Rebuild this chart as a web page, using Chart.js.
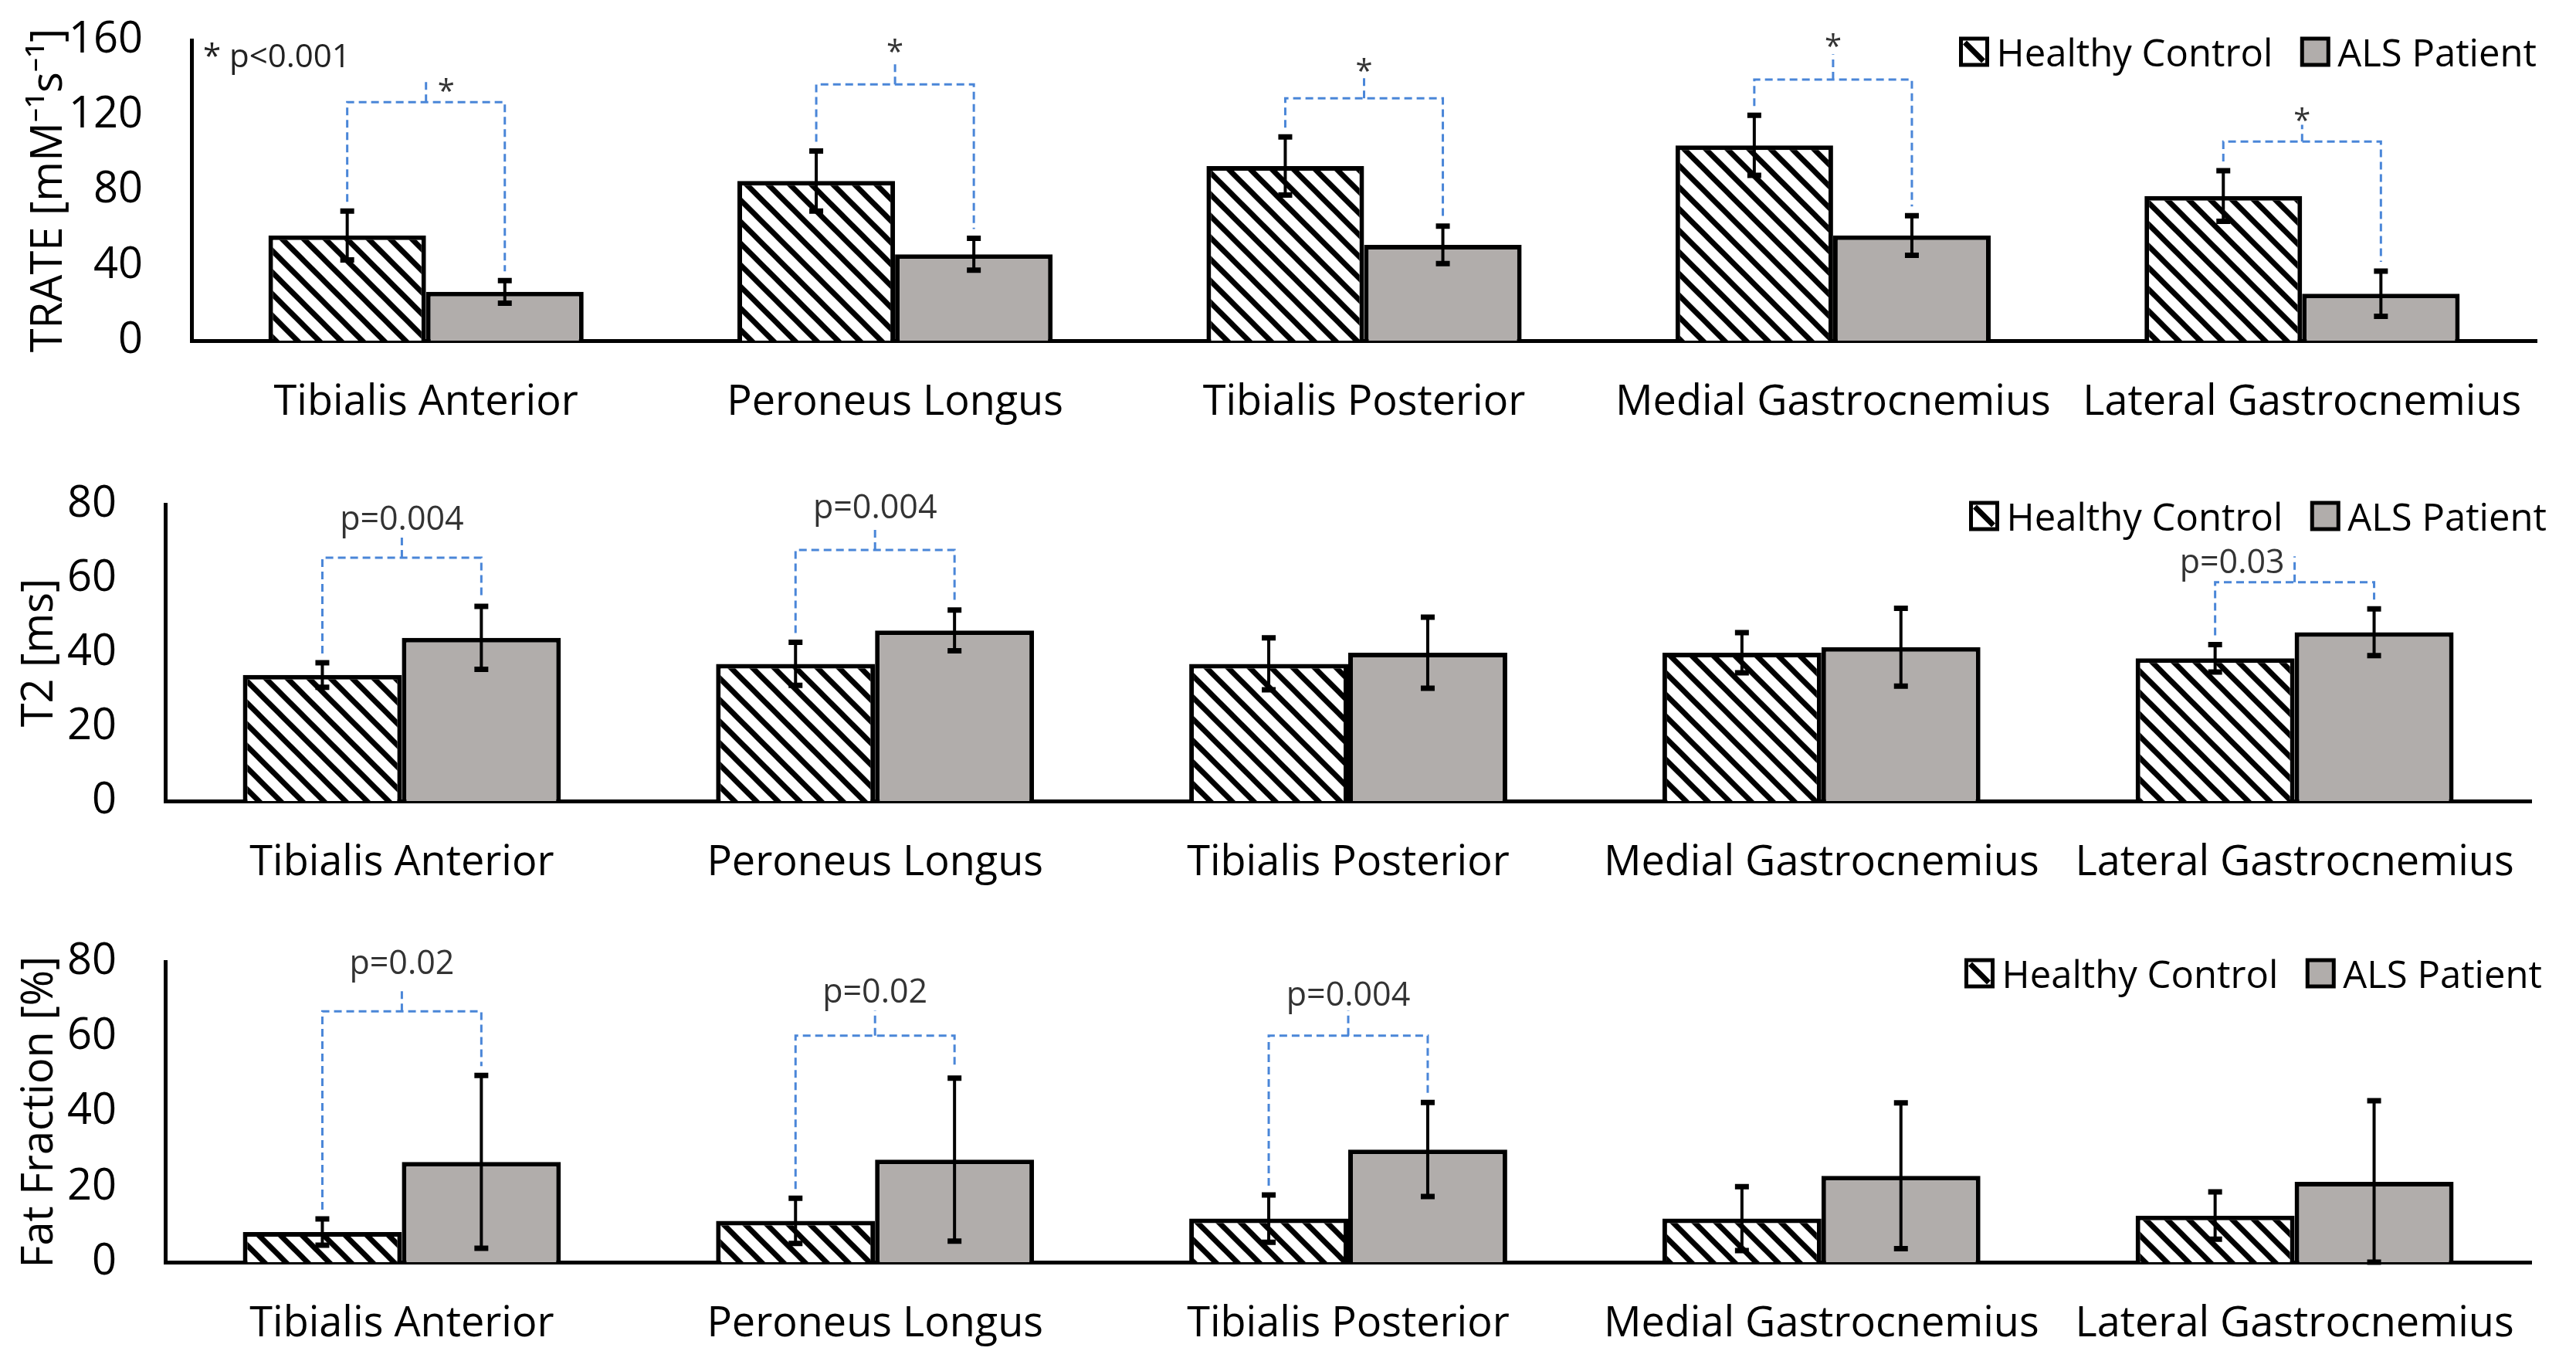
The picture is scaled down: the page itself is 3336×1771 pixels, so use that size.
<!DOCTYPE html>
<html>
<head>
<meta charset="utf-8">
<script src="https://cdn.jsdelivr.net/npm/chart.js@4.4.1/dist/chart.umd.min.js"></script>
<style>
html, body { margin: 0; padding: 0; background: #fff; }
body { width: 3336px; height: 1771px; position: relative; overflow: hidden; }
.panel { position: absolute; left: 0; width: 3336px; }
</style>
</head>
<body>
<div class="panel" style="top:0;height:580px"><canvas id="trateChart"></canvas></div>
<div class="panel" style="top:590px;height:590px"><canvas id="t2Chart"></canvas></div>
<div class="panel" style="top:1180px;height:591px"><canvas id="fatChart"></canvas></div>
<script>
const muscles = ['Tibialis Anterior', 'Peroneus Longus', 'Tibialis Posterior', 'Medial Gastrocnemius', 'Lateral Gastrocnemius'];
const seriesNames = ['Healthy Control', 'ALS Patient'];

// TRATE [mM-1 s-1]
const trateHealthy = [56, 85, 93, 104, 77];
const trateHealthySd = [13, 16, 15.5, 16, 13.5];
const trateAls = [26, 46, 51, 56, 25];
const trateAlsSd = [6, 8.5, 10, 10.5, 12];
const trateTicks = [0, 40, 80, 120, 160];

// T2 [ms]
const t2Healthy = [34, 37, 37, 40, 38.5];
const t2HealthySd = [3.3, 5.8, 7, 5.4, 3.7];
const t2Als = [44, 46, 40, 41.5, 45.5];
const t2AlsSd = [8.5, 5.5, 9.6, 10.5, 6.3];
const t2Ticks = [0, 20, 40, 60, 80];

// Fat Fraction [%]
const fatHealthy = [8, 11, 11.6, 11.6, 12.4];
const fatHealthySd = [3.5, 6, 6.3, 8.5, 6.3];
const fatAls = [26.7, 27.3, 30, 23, 21.4];
const fatAlsSd = [23, 21.7, 12.5, 19.4, 21.6];
const fatTicks = [0, 20, 40, 60, 80];

// significance brackets (category, label)
const trateSig = [[0, '*'], [1, '*'], [2, '*'], [3, '*'], [4, '*']];
const t2Sig = [[0, 'p=0.004'], [1, 'p=0.004'], [4, 'p=0.03']];
const fatSig = [[0, 'p=0.02'], [1, 'p=0.02'], [2, 'p=0.004']];

// bracket heights in axis units: [bar level, stem top, label centre]
const trateSigLevels = [[127, 138.5, 136], [136.5, 149, 157], [129, 141, 147], [139, 152.5, 160], [106, 115, 120.5]];
const t2SigLevels = [[65.6, 72, 76.5], [67.7, 74, 79.5], [59, 66, 64.7]];
const fatSigLevels = [[66.8, 72.5, 80], [60.3, 67, 72.4], [60.3, 67, 71.6]];

const FONT = '"Open Sans", "Noto Sans", sans-serif';

function hatchTile() {
    const size = 28;
    const c = document.createElement('canvas');
    c.width = size;
    c.height = size;
    const g = c.getContext('2d');
    g.fillStyle = '#fff';
    g.fillRect(0, 0, size, size);
    g.strokeStyle = '#000';
    g.lineWidth = 7;
    for (const off of [-size, 0, size]) {
        g.beginPath();
        g.moveTo(off - 4, -4);
        g.lineTo(off + size + 4, size + 4);
        g.stroke();
    }
    return c;
}

function drawLabel(ctx, text, x, cy, align) {
    ctx.textAlign = align;
    ctx.textBaseline = 'alphabetic';
    const m = ctx.measureText(text);
    const asc = m.actualBoundingBoxAscent;
    const desc = Math.min(m.actualBoundingBoxDescent, 0);
    ctx.fillText(text, x, cy + (asc - desc) / 2);
}

function noPadding(s) {
    s.paddingTop = 0;
    s.paddingBottom = 0;
    s.paddingLeft = 0;
    s.paddingRight = 0;
}

const extrasPlugin = {
    id: 'extras',
    afterDatasetsDraw(chart) {
        const ctx = chart.ctx;
        const yScale = chart.scales.y;
        const opts = chart.options.plugins.extras;
        const area = chart.chartArea;

        // error bars
        chart.data.datasets.forEach((ds, di) => {
            const meta = chart.getDatasetMeta(di);
            meta.data.forEach((bar, i) => {
                const v = ds.data[i];
                const sd = ds.sd[i];
                const yTop = yScale.getPixelForValue(v + sd);
                const yBot = yScale.getPixelForValue(Math.max(0, v - sd));
                ctx.save();
                ctx.strokeStyle = '#000';
                ctx.lineWidth = 4;
                ctx.beginPath();
                ctx.moveTo(bar.x, yTop);
                ctx.lineTo(bar.x, yBot);
                ctx.stroke();
                ctx.lineWidth = 7;
                ctx.beginPath();
                ctx.moveTo(bar.x - 9, yTop);
                ctx.lineTo(bar.x + 9, yTop);
                ctx.moveTo(bar.x - 9, yBot);
                ctx.lineTo(bar.x + 9, yBot);
                ctx.stroke();
                ctx.restore();
            });
        });

        // significance brackets
        const hc = chart.getDatasetMeta(0).data;
        const als = chart.getDatasetMeta(1).data;
        const d0 = chart.data.datasets[0];
        const d1 = chart.data.datasets[1];
        opts.sig.forEach(([i, text], k) => {
            const [level, stem, labelAt] = opts.levels[k];
            const xl = hc[i].x;
            const xr = als[i].x;
            const xm = (xl + xr) / 2;
            const yb = yScale.getPixelForValue(level);
            const yl = yScale.getPixelForValue(d0.data[i] + d0.sd[i]) - 12;
            const yr = yScale.getPixelForValue(d1.data[i] + d1.sd[i]) - 12;
            ctx.save();
            ctx.strokeStyle = '#4a86d8';
            ctx.lineWidth = 3;
            ctx.setLineDash([10, 6]);
            ctx.beginPath();
            ctx.moveTo(xl, yl);
            ctx.lineTo(xl, yb);
            ctx.lineTo(xr, yb);
            ctx.lineTo(xr, yr);
            ctx.moveTo(xm, yb);
            ctx.lineTo(xm, yScale.getPixelForValue(stem));
            ctx.stroke();
            ctx.setLineDash([]);
            ctx.fillStyle = '#333';
            const star = text === '*';
            ctx.font = (star ? 40 : 43) + 'px ' + FONT;
            const cy = yScale.getPixelForValue(labelAt);
            if (star && k === 0 && opts.firstRight) {
                drawLabel(ctx, text, xm + 15, cy, 'left');
            } else if (opts.lastLeft && k === opts.sig.length - 1) {
                drawLabel(ctx, text, xm - 13, cy, 'right');
            } else {
                drawLabel(ctx, text, xm, cy, 'center');
            }
            ctx.restore();
        });

        // note
        if (opts.note) {
            ctx.save();
            ctx.fillStyle = '#222';
            ctx.font = '42px ' + FONT;
            drawLabel(ctx, opts.note, area.left + 15, area.top + 19, 'left');
            ctx.restore();
        }

        // legend
        ctx.save();
        ctx.font = '49px ' + FONT;
        const box = 34, gapText = 12, gapItem = 38;
        const w1 = ctx.measureText(seriesNames[0]).width;
        const w2 = ctx.measureText(seriesNames[1]).width;
        let x = area.right + opts.legendDx - (box + gapText + w1 + gapItem + box + gapText + w2);
        const cy = area.top + 15;
        ctx.lineWidth = 5;
        ctx.strokeStyle = '#000';
        ctx.fillStyle = '#fff';
        ctx.fillRect(x, cy - box / 2, box, box);
        ctx.strokeRect(x, cy - box / 2, box, box);
        ctx.lineWidth = 7;
        ctx.beginPath();
        ctx.moveTo(x + 5, cy - box / 2 + 5);
        ctx.lineTo(x + box - 5, cy + box / 2 - 5);
        ctx.stroke();
        ctx.fillStyle = '#000';
        drawLabel(ctx, seriesNames[0], x + box + gapText, cy, 'left');
        x += box + gapText + w1 + gapItem;
        ctx.fillStyle = '#b1adab';
        ctx.fillRect(x, cy - box / 2, box, box);
        ctx.lineWidth = 5;
        ctx.strokeRect(x, cy - box / 2, box, box);
        ctx.fillStyle = '#000';
        drawLabel(ctx, seriesNames[1], x + box + gapText, cy, 'left');
        ctx.restore();
    }
};

function makeChart(id, cfg) {
    const canvas = document.getElementById(id);
    const hatch = canvas.getContext('2d').createPattern(hatchTile(), 'repeat');
    const barStyle = {
        borderColor: '#000',
        borderWidth: 6,
        borderSkipped: 'bottom',
        categoryPercentage: 0.672,
        barPercentage: 1.0
    };
    return new Chart(canvas, {
        type: 'bar',
        data: {
            labels: muscles,
            datasets: [
                Object.assign({ label: seriesNames[0], data: cfg.healthy, sd: cfg.healthySd, backgroundColor: hatch }, barStyle),
                Object.assign({ label: seriesNames[1], data: cfg.als, sd: cfg.alsSd, backgroundColor: '#b1adab' }, barStyle)
            ]
        },
        options: {
            responsive: true,
            maintainAspectRatio: false,
            animation: false,
            layout: {
                autoPadding: false,
                padding: { top: cfg.padTop, right: cfg.padRight, left: 0, bottom: 0 }
            },
            plugins: {
                legend: { display: false },
                tooltip: { enabled: false },
                extras: {
                    sig: cfg.sig,
                    levels: cfg.levels,
                    note: cfg.note,
                    firstRight: cfg.firstRight,
                    lastLeft: cfg.lastLeft,
                    legendDx: cfg.legendDx
                }
            },
            scales: {
                x: {
                    z: 1,
                    grid: { display: false, drawTicks: false },
                    border: { display: true, color: '#000', width: 5 },
                    ticks: {
                        color: '#000',
                        font: { family: FONT, size: 54 },
                        padding: 48,
                        maxRotation: 0,
                        minRotation: 0,
                        autoSkip: false
                    },
                    afterFit: s => { s.height = cfg.xHeight; noPadding(s); }
                },
                y: {
                    min: 0,
                    max: cfg.ticks[cfg.ticks.length - 1],
                    grid: { display: false, drawTicks: false },
                    border: { display: true, color: '#000', width: 5 },
                    ticks: {
                        color: '#000',
                        font: { family: FONT, size: 56 },
                        padding: 63
                    },
                    afterBuildTicks: s => { s.ticks = cfg.ticks.map(v => ({ value: v })); },
                    title: {
                        display: true,
                        text: cfg.title,
                        color: '#000',
                        font: { family: FONT, size: 56 },
                        padding: { top: cfg.titlePad, bottom: 0 }
                    },
                    afterFit: s => { s.width = cfg.yWidth; noPadding(s); }
                }
            }
        },
        plugins: [extrasPlugin]
    });
}

makeChart('trateChart', {
    healthy: trateHealthy, healthySd: trateHealthySd, als: trateAls, alsSd: trateAlsSd,
    ticks: trateTicks, title: 'TRATE [mM\u207B\u00B9s\u207B\u00B9]',
    sig: trateSig, levels: trateSigLevels, note: '* p<0.001', firstRight: true, lastLeft: false,
    padTop: 52, padRight: 51, xHeight: 139, yWidth: 248, titlePad: 30, legendDx: 0
});

makeChart('t2Chart', {
    healthy: t2Healthy, healthySd: t2HealthySd, als: t2Als, alsSd: t2AlsSd,
    ticks: t2Ticks, title: 'T2 [ms]',
    sig: t2Sig, levels: t2SigLevels, note: null, firstRight: false, lastLeft: true,
    padTop: 63, padRight: 58, xHeight: 143, yWidth: 214, titlePad: 18, legendDx: 20
});

makeChart('fatChart', {
    healthy: fatHealthy, healthySd: fatHealthySd, als: fatAls, alsSd: fatAlsSd,
    ticks: fatTicks, title: 'Fat Fraction [%]',
    sig: fatSig, levels: fatSigLevels, note: null, firstRight: false, lastLeft: false,
    padTop: 65, padRight: 58, xHeight: 137, yWidth: 214, titlePad: 18, legendDx: 14
});
</script>
</body>
</html>
